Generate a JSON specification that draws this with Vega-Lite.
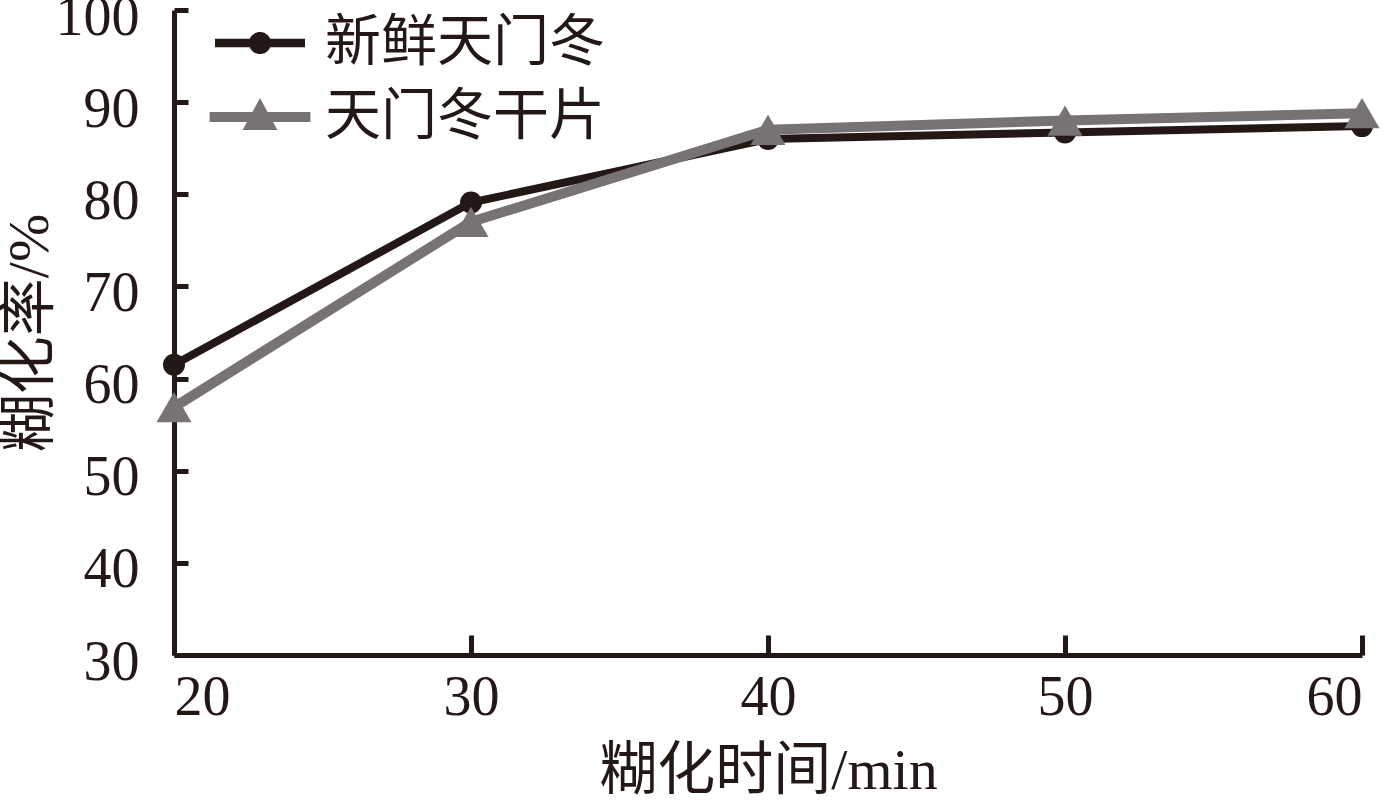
{
  "$schema": "https://vega.github.io/schema/vega-lite/v6.json",
  "width": 1188,
  "height": 645,
  "autosize": {"type": "none"},
  "padding": {"left": 174, "top": 10, "right": 32, "bottom": 146},
  "background": "white",
  "config": {
    "view": {"stroke": null},
    "font": "Liberation Serif, Noto Sans CJK SC",
    "axis": {
      "grid": false,
      "domainColor": "#231815",
      "domainWidth": 5,
      "tickColor": "#231815",
      "tickWidth": 5,
      "labelColor": "#231815",
      "labelFont": "Liberation Serif",
      "labelFontSize": 56,
      "titleColor": "#231815",
      "titleFont": "Liberation Serif, Noto Sans CJK SC",
      "titleFontSize": 58,
      "titleFontWeight": "normal"
    },
    "legend": {
      "orient": "none",
      "legendX": 56,
      "legendY": 3,
      "padding": 0,
      "symbolSize": 3600,
      "symbolStrokeWidth": 0,
      "symbolOpacity": 1,
      "labelFont": "Noto Sans CJK SC",
      "labelFontSize": 56,
      "labelLimit": 0,
      "labelColor": "#231815",
      "labelOffset": 35,
      "rowPadding": 16
    }
  },
  "data": {
    "values": [
      {"time": 20, "rate": 61.5, "series": "新鲜天门冬"},
      {"time": 30, "rate": 79.1, "series": "新鲜天门冬"},
      {"time": 40, "rate": 86.0, "series": "新鲜天门冬"},
      {"time": 50, "rate": 86.7, "series": "新鲜天门冬"},
      {"time": 60, "rate": 87.4, "series": "新鲜天门冬"},
      {"time": 20, "rate": 56.9, "series": "天门冬干片"},
      {"time": 30, "rate": 77.0, "series": "天门冬干片"},
      {"time": 40, "rate": 87.0, "series": "天门冬干片"},
      {"time": 50, "rate": 88.0, "series": "天门冬干片"},
      {"time": 60, "rate": 88.8, "series": "天门冬干片"}
    ]
  },
  "encoding": {
    "x": {
      "field": "time",
      "type": "quantitative",
      "scale": {"domain": [20, 60], "nice": false, "zero": false},
      "axis": {"values": [20, 30, 40, 50, 60], "tickSize": -20, "labelPadding": 35, "title": "糊化时间/min", "titlePadding": 17}
    },
    "y": {
      "field": "rate",
      "type": "quantitative",
      "scale": {"domain": [30, 100], "nice": false, "zero": false},
      "axis": {"values": [30, 40, 50, 60, 70, 80, 90, 100], "tickSize": -14, "labelPadding": 49, "labelOffset": 7, "title": "糊化率/%", "titlePadding": -4}
    }
  },
  "layer": [
    {
      "transform": [{"filter": "datum.series === '新鲜天门冬'"}],
      "mark": {"type": "line", "strokeWidth": 8, "color": "#231815"}
    },
    {
      "transform": [{"filter": "datum.series === '新鲜天门冬'"}],
      "mark": {"type": "point", "filled": true, "opacity": 1, "shape": "circle", "size": 484, "color": "#231815"}
    },
    {
      "transform": [{"filter": "datum.series === '天门冬干片'"}],
      "mark": {"type": "line", "strokeWidth": 10, "color": "#777273"}
    },
    {
      "transform": [{"filter": "datum.series === '天门冬干片'"}],
      "mark": {"type": "point", "filled": true, "opacity": 1, "shape": "triangle-up", "size": 1225, "color": "#777273"}
    },
    {
      "transform": [{"filter": "false"}],
      "mark": {"type": "point", "filled": true, "opacity": 1},
      "encoding": {
        "color": {
          "field": "series",
          "type": "nominal",
          "scale": {"domain": ["新鲜天门冬", "天门冬干片"], "range": ["#231815", "#777273"]},
          "legend": {"title": null}
        },
        "shape": {
          "field": "series",
          "type": "nominal",
          "scale": {"domain": ["新鲜天门冬", "天门冬干片"], "range": ["M-1.5,-0.14 L1.5,-0.14 L1.5,0.14 L-1.5,0.14 Z M0.37,0 A0.37,0.37 0 1,1 -0.37,0 A0.37,0.37 0 1,1 0.37,0 Z", "M-1.68,-0.17 L1.68,-0.17 L1.68,0.17 L-1.68,0.17 Z M0,-0.63 L0.58,0.43 L-0.58,0.43 Z"]},
          "legend": {"title": null}
        }
      }
    }
  ]
}
